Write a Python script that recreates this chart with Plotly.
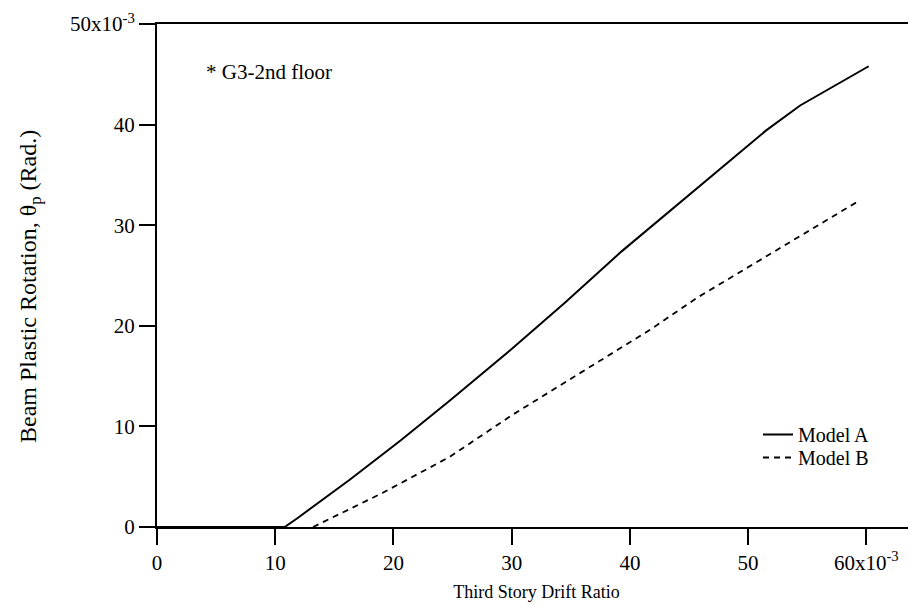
import plotly.graph_objects as go

# Values, in units of 10^-3
model_a_x = [0, 10.8, 11.9, 16.3, 20.6, 24.8, 29.9, 34.5, 39.3, 44.0, 48.5, 51.5, 54.4, 60.2]
model_a_y = [0, 0, 0.9, 4.7, 8.6, 12.6, 17.6, 22.3, 27.4, 32.0, 36.5, 39.4, 41.9, 45.8]

model_b_x = [13.2, 19.1, 24.8, 30.0, 41.7, 45.7, 59.2]
model_b_y = [0, 3.4, 7.0, 11.1, 19.6, 22.8, 32.3]

x_tick_vals = [0, 10, 20, 30, 40, 50, 60]
x_tick_text = ["0", "10", "20", "30", "40", "50", "60x10<sup>-3</sup>"]
y_tick_vals = [0, 10, 20, 30, 40, 50]
y_tick_text = ["0", "10", "20", "30", "40", "50x10<sup>-3</sup>"]

FONT = "Liberation Serif"

# page has an 8px body margin; figure is sized so it fills the window exactly
W, H = 908, 599
L, T = 149, 16
PW, PH = 759, 503

fig = go.Figure()
fig.add_trace(go.Scatter(x=model_a_x, y=model_a_y, mode="lines", name="Model A",
                         line=dict(color="black", width=2), legend="legend"))
fig.add_trace(go.Scatter(x=model_b_x, y=model_b_y, mode="lines", name="Model B",
                         line=dict(color="black", width=1.8, dash="6px,5px"), legend="legend2"))

fig.add_annotation(text="* G3-2nd floor", xref="paper", yref="paper",
                   x=(204 - 157) / PW, y=(527 - 72) / PH, xanchor="left", yanchor="middle",
                   showarrow=False, font=dict(family=FONT, size=21, color="black"))

# y-axis title (placed as rotated text to sit where the original has it)
fig.add_annotation(text="Beam Plastic Rotation, θ<sub>p</sub> (Rad.)", xref="paper", yref="paper",
                   x=(30 - 157) / PW, y=(527 - 287) / PH, xanchor="center", yanchor="middle",
                   textangle=-90, showarrow=False,
                   font=dict(family=FONT, size=24, color="black"))

leg_common = dict(xanchor="left", yanchor="top", bgcolor="rgba(0,0,0,0)",
                  font=dict(family=FONT, size=20, color="black"), itemwidth=30)

fig.update_layout(
    width=W, height=H,
    margin=dict(l=L, r=W - L - PW, t=T, b=H - T - PH, pad=0),
    paper_bgcolor="white", plot_bgcolor="white",
    font=dict(family=FONT, size=21, color="black"),
    showlegend=True,
    legend=dict(x=(758 - 157) / PW, y=(527 - 415) / PH, **leg_common),
    legend2=dict(x=(758 - 157) / PW, y=(527 - 438) / PH, **leg_common),
    xaxis=dict(range=[0, 64.2], tickmode="array", tickvals=x_tick_vals, ticktext=x_tick_text,
               ticks="outside", ticklen=16, tickwidth=2, tickcolor="black",
               tickfont=dict(family=FONT, size=21),
               showline=True, linewidth=2, linecolor="black", mirror=True,
               showgrid=False, zeroline=False, automargin=False,
               title=dict(text="Third Story Drift Ratio", standoff=11,
                          font=dict(family=FONT, size=18))),
    yaxis=dict(range=[0, 50], tickmode="array", tickvals=y_tick_vals, ticktext=y_tick_text,
               ticks="outside", ticklen=16, tickwidth=2, tickcolor="black",
               tickfont=dict(family=FONT, size=21),
               showline=True, linewidth=2, linecolor="black",
               showgrid=False, zeroline=False, automargin=False),
)

fig.write_html("out.html")
